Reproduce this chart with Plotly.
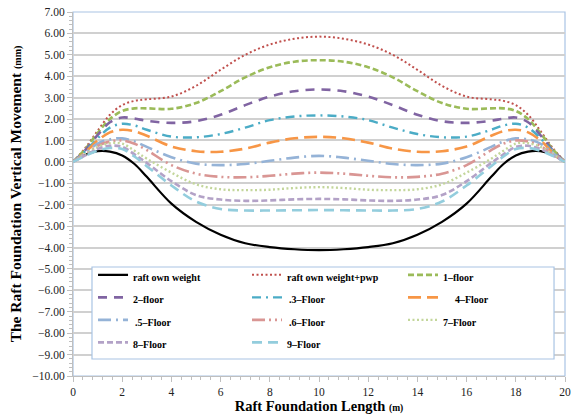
import plotly.graph_objects as go

x_m = [0, 0.5, 1, 1.5, 2, 2.5, 3, 4, 5, 6, 7, 8, 9, 10,
       11, 12, 13, 14, 15, 16, 17, 17.5, 18, 18.5, 19, 19.5, 20]

raft_own_weight = [0, 0.33, 0.5, 0.48, 0.3, -0.1, -0.7, -1.95, -2.8, -3.4, -3.8, -3.98, -4.08, -4.12,
                   -4.08, -3.98, -3.8, -3.4, -2.8, -1.95, -0.7, -0.1, 0.3, 0.48, 0.5, 0.33, 0]
raft_pwp = [0, 0.65, 1.45, 2.2, 2.65, 2.85, 2.92, 3.05, 3.55, 4.3, 5.0, 5.48, 5.75, 5.85,
            5.75, 5.48, 5.0, 4.3, 3.55, 3.05, 2.92, 2.85, 2.65, 2.2, 1.45, 0.65, 0]
floor_1 = [0, 0.6, 1.35, 2.0, 2.38, 2.5, 2.5, 2.48, 2.75, 3.3, 3.95, 4.42, 4.68, 4.75,
           4.68, 4.42, 3.95, 3.3, 2.75, 2.48, 2.5, 2.5, 2.38, 2.0, 1.35, 0.6, 0]
floor_2 = [0, 0.55, 1.25, 1.85, 2.07, 2.02, 1.92, 1.82, 1.9, 2.2, 2.65, 3.05, 3.3, 3.38,
           3.3, 3.05, 2.65, 2.2, 1.9, 1.82, 1.92, 2.02, 2.07, 1.85, 1.25, 0.55, 0]
floor_3 = [0, 0.5, 1.1, 1.6, 1.78, 1.7, 1.5, 1.18, 1.15, 1.3, 1.6, 1.95, 2.12, 2.17,
           2.12, 1.95, 1.6, 1.3, 1.15, 1.18, 1.5, 1.7, 1.78, 1.6, 1.1, 0.5, 0]
floor_4 = [0, 0.45, 1.0, 1.38, 1.5, 1.43, 1.22, 0.72, 0.5, 0.47, 0.62, 0.9, 1.1, 1.17,
           1.1, 0.9, 0.62, 0.47, 0.5, 0.72, 1.22, 1.43, 1.5, 1.38, 1.0, 0.45, 0]
floor_5 = [0, 0.4, 0.85, 1.05, 1.1, 0.95, 0.7, 0.22, -0.08, -0.15, -0.1, 0.05, 0.2, 0.28,
           0.2, 0.05, -0.1, -0.15, -0.08, 0.22, 0.7, 0.95, 1.1, 1.05, 0.85, 0.4, 0]
floor_6 = [0, 0.35, 0.75, 0.95, 1.0, 0.85, 0.55, -0.15, -0.55, -0.7, -0.72, -0.65, -0.55, -0.5,
           -0.55, -0.65, -0.72, -0.7, -0.55, -0.15, 0.55, 0.85, 1.0, 0.95, 0.75, 0.35, 0]
floor_7 = [0, 0.35, 0.7, 0.87, 0.85, 0.52, 0.15, -0.5, -1.05, -1.28, -1.32, -1.3, -1.22, -1.18,
           -1.22, -1.3, -1.32, -1.28, -1.05, -0.5, 0.15, 0.52, 0.85, 0.87, 0.7, 0.35, 0]
floor_8 = [0, 0.3, 0.6, 0.75, 0.7, 0.35, -0.05, -0.9, -1.55, -1.76, -1.82, -1.8, -1.75, -1.73,
           -1.75, -1.8, -1.82, -1.76, -1.55, -0.9, -0.05, 0.35, 0.7, 0.75, 0.6, 0.3, 0]
floor_9 = [0, 0.28, 0.52, 0.65, 0.6, 0.25, -0.2, -1.1, -1.85, -2.2, -2.27, -2.27, -2.26, -2.25,
           -2.26, -2.27, -2.27, -2.2, -1.85, -1.1, -0.2, 0.25, 0.6, 0.65, 0.52, 0.28, 0]

series_names = ["raft own weight", "raft own weight+pwp", "1\u2013floor", "2\u2013floor",
                ".3\u2013Floor", "4\u2013Floor", ".5\u2013Floor", ".6\u2013Floor",
                "7\u2013Floor", "8\u2013Floor", "9\u2013Floor"]
series_values = [raft_own_weight, raft_pwp, floor_1, floor_2, floor_3, floor_4,
                 floor_5, floor_6, floor_7, floor_8, floor_9]
legend_labels = ["raft own weight", "raft own weight+pwp", "1\u2013floor", "2\u2013floor",
                 "\u2009.3\u2013Floor", "\u2003\u20094\u2013Floor", "\u2009.5\u2013Floor",
                 "\u2009.6\u2013Floor", "7\u2013Floor", "8\u2013Floor", "9\u2013Floor"]
legend_column = ["legend", "legend2", "legend3", "legend", "legend2", "legend3",
                 "legend", "legend2", "legend3", "legend", "legend2"]

styles = [
    dict(color="#000000", width=2.2, dash="solid"),
    dict(color="#C0504D", width=2.0, dash="2px,2.5px"),
    dict(color="#9BBB59", width=2.6, dash="6px,3px"),
    dict(color="#8064A2", width=2.6, dash="9px,7px"),
    dict(color="#4BACC6", width=2.4, dash="9px,5px,2px,5px"),
    dict(color="#F79646", width=2.6, dash="13px,6px"),
    dict(color="#95B3D7", width=2.6, dash="13px,5px,2px,5px"),
    dict(color="#D99694", width=2.6, dash="13px,4px,2px,4px,2px,4px"),
    dict(color="#C3D69B", width=2.4, dash="2px,2.5px"),
    dict(color="#B3A2C7", width=2.6, dash="6px,3px"),
    dict(color="#93CDDD", width=2.6, dash="10px,6px"),
]

fig = go.Figure()
for name, lab, vals, st, lg in zip(series_names, legend_labels, series_values, styles, legend_column):
    fig.add_trace(go.Scatter(
        x=x_m, y=vals, mode="lines", line_shape="spline",
        line=dict(color=st["color"], width=st["width"], dash=st["dash"]),
        name="<span style='font-size:10px'><b>" + lab + "</b></span>",
        legend=lg, hoverinfo="skip",
    ))

serif = "Liberation Serif"
legend_common = dict(
    orientation="v", y=0.3225, xanchor="left", yanchor="top",
    font=dict(family=serif, size=15, color="#000000"),
    bgcolor="rgba(0,0,0,0)", borderwidth=0, tracegroupgap=0,
)
fig.update_layout(
    width=574, height=419,
    margin=dict(l=73, r=9, t=12, b=43),
    paper_bgcolor="white", plot_bgcolor="white",
    font=dict(family=serif, color="#000000"),
    showlegend=True,
    legend=dict(x=0.0407, **legend_common),
    legend2=dict(x=0.3537, **legend_common),
    legend3=dict(x=0.6707, **legend_common),
    xaxis=dict(
        range=[0, 20], dtick=2, tick0=0, showgrid=False, zeroline=False,
        showline=True, linecolor="#BFBFBF", linewidth=1,
        ticks="outside", ticklen=5, tickcolor="#BFBFBF",
        minor=dict(dtick=0.4, ticks="outside", ticklen=3, tickcolor="#BFBFBF", showgrid=False),
        tickfont=dict(family=serif, size=11.5, color="#222222"),
        title=dict(text="<b>Raft Foundation Length <span style='font-size:9.5px'>(m)</span></b>",
                   font=dict(family=serif, size=14.5, color="#000000"), standoff=4),
        automargin=False,
    ),
    yaxis=dict(
        range=[-10, 7], dtick=1, tick0=0, tickformat=".2f",
        showgrid=True, gridcolor="#D0D0D0", gridwidth=1.6, zeroline=False,
        showline=True, linecolor="#BFBFBF", linewidth=1,
        ticks="outside", ticklen=5, tickcolor="#BFBFBF",
        minor=dict(dtick=0.2, ticks="outside", ticklen=3, tickcolor="#BFBFBF", showgrid=False),
        tickfont=dict(family=serif, size=11.5, color="#222222"),
        title=dict(text="<b>The Raft Foundation Vertical Movement <span style='font-size:10px'>(mm)</span></b>",
                   font=dict(family=serif, size=15.5, color="#000000"), standoff=6),
        automargin=False,
    ),
)
# plot-area frame
fig.add_shape(type="rect", xref="paper", yref="paper", x0=0, y0=0, x1=1, y1=1,
              line=dict(color="#A9C4E4", width=1.2), layer="below")
# legend box
fig.add_shape(type="rect", xref="paper", yref="paper", x0=0.0386, y0=0.0467, x1=0.9777, y1=0.2995,
              line=dict(color="#A9C4E4", width=1.2), fillcolor="white", layer="above")

fig.write_html("out.html", config={"displayModeBar": False},
               post_script="document.body.style.margin='0px';")
